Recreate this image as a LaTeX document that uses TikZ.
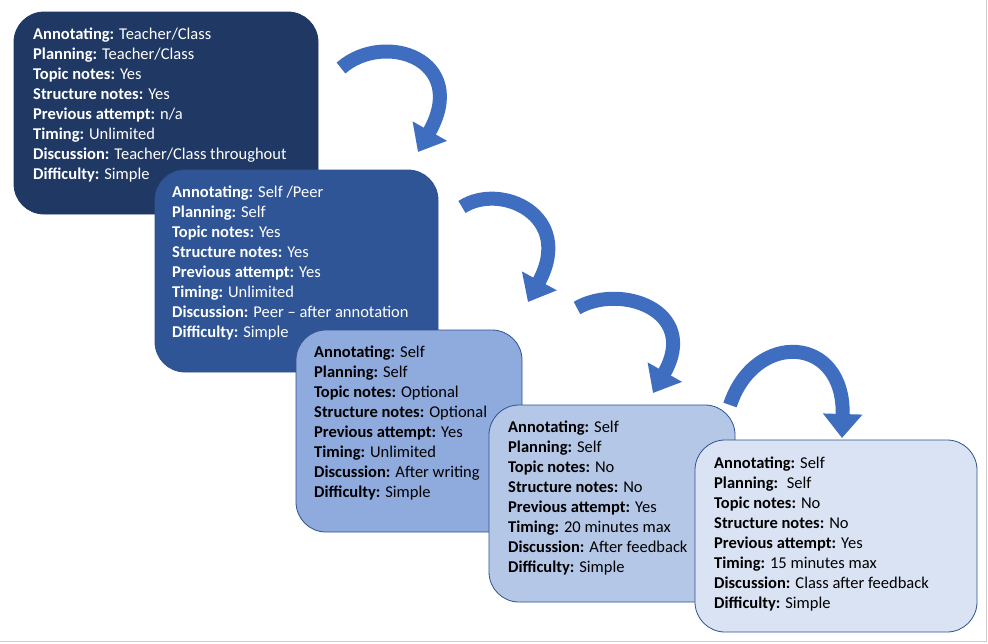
\documentclass[tikz,border=0pt]{standalone}
\usepackage{fontspec}
\setmainfont{Carlito}
\usetikzlibrary{arrows.meta}
\definecolor{b1}{HTML}{203864}
\definecolor{b2}{HTML}{2F5597}
\definecolor{b3}{HTML}{8FAADC}
\definecolor{b4}{HTML}{B4C7E7}
\definecolor{b5}{HTML}{DAE3F3}
\definecolor{edge}{HTML}{2F528F}
\definecolor{arr}{HTML}{3F6DBF}
\begin{document}
\begin{tikzpicture}[x=1pt,y=-1pt,
  box/.style={draw=edge,line width=0.8pt,rounded corners=30pt},
  txt/.style={anchor=north west,align=left,font=\fontsize{16.5}{20}\selectfont,inner sep=0pt},
  carr/.style={draw=arr,line width=14pt,-{Triangle[length=24pt,width=38pt]}}]
\useasboundingbox (0,0) rectangle (988,643);
\fill[white] (0,0) rectangle (988,643);
\draw[gray!40] (986,0) -- (986,641) -- (0,641);
% arrows
\draw[carr] (341,68) .. controls (385,30) and (470,60) .. (418,152);
\draw[carr] (462,207) .. controls (500,182) and (575,215) .. (528,302);
\draw[carr] (577,308) .. controls (620,283) and (700,310) .. (653,393);
\draw[carr] (730,405) .. controls (755,330) and (845,335) .. (842,438);
% boxes
\draw[box,fill=b1,draw=b1] (14,12) rectangle (318,214);
\node[txt,text=white] (t1) at (33,28) {\textbf{Annotating:} Teacher/Class\\\textbf{Planning:} Teacher/Class\\\textbf{Topic notes:} Yes\\\textbf{Structure notes:} Yes\\\textbf{Previous attempt:} n/a\\\textbf{Timing:} Unlimited\\\textbf{Discussion:} Teacher/Class throughout\\\textbf{Difficulty:} Simple};
\draw[box,fill=b2] (155,170) rectangle (438,372);
\node[txt,text=white] (t2) at (172,186) {\textbf{Annotating:} Self /Peer\\\textbf{Planning:} Self\\\textbf{Topic notes:} Yes\\\textbf{Structure notes:} Yes\\\textbf{Previous attempt:} Yes\\\textbf{Timing:} Unlimited\\\textbf{Discussion:} Peer -- after annotation\\\textbf{Difficulty:} Simple};
\draw[box,fill=b3] (296,330) rectangle (522,532);
\node[txt] (t3) at (314,346) {\textbf{Annotating:} Self\\\textbf{Planning:} Self\\\textbf{Topic notes:} Optional\\\textbf{Structure notes:} Optional\\\textbf{Previous attempt:} Yes\\\textbf{Timing:} Unlimited\\\textbf{Discussion:} After writing\\\textbf{Difficulty:} Simple};
\draw[box,fill=b4] (489,405) rectangle (735,602);
\node[txt] (t4) at (508,421) {\textbf{Annotating:} Self\\\textbf{Planning:} Self\\\textbf{Topic notes:} No\\\textbf{Structure notes:} No\\\textbf{Previous attempt:} Yes\\\textbf{Timing:} 20 minutes max\\\textbf{Discussion:} After feedback\\\textbf{Difficulty:} Simple};
\draw[box,fill=b5] (695,440) rectangle (977,632);
\node[txt] (t5) at (714,457) {\textbf{Annotating:} Self\\\textbf{Planning:}~ Self\\\textbf{Topic notes:} No\\\textbf{Structure notes:} No\\\textbf{Previous attempt:} Yes\\\textbf{Timing:} 15 minutes max\\\textbf{Discussion:} Class after feedback\\\textbf{Difficulty:} Simple};
\end{tikzpicture}
\end{document}
